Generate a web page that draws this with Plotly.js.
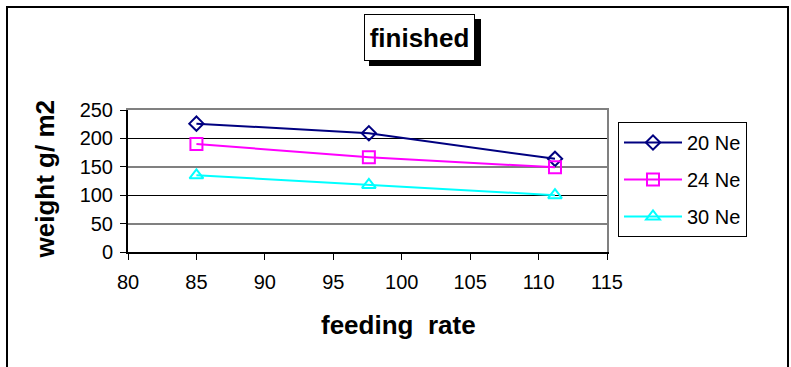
<!DOCTYPE html>
<html>
<head>
<meta charset="utf-8">
<script src="https://cdn.plot.ly/plotly-3.0.1.min.js"></script>
<style>html,body{margin:0;padding:0;background:#fff;}#chart{width:791px;height:367px;}</style>
</head>
<body>
<div id="chart"></div>
<script>
// ---- data ----
const feedingRate = [85, 97.6, 111.2];
const seriesNames = ["20 Ne", "24 Ne", "30 Ne"];
const ne20 = [226, 209, 164];
const ne24 = [190, 167, 149];
const ne30 = [135, 118, 100];
const xTicks = [80, 85, 90, 95, 100, 105, 110, 115];
const yTicks = [0, 50, 100, 150, 200, 250];
const chartTitle = "finished";
const xTitle = "feeding&nbsp; rate";
const yTitle = "weight g/ m2";

// ---- layout helpers ----
const W = 791, H = 367;
const M = {l: 128, r: 184, t: 110, b: 115};
const PW = W - M.l - M.r, PH = H - M.t - M.b;
const px = v => (v - M.l) / PW;          // pixel x -> paper x
const py = v => (H - M.b - v) / PH;      // pixel y -> paper y
const FONT = "Liberation Sans, Arial, sans-serif";

const styles = [
  {color: "#000080", symbol: "diamond-open", size: 11},
  {color: "#FF00FF", symbol: "square-open", size: 12},
  {color: "#00FFFF", symbol: "triangle-up-open", size: 12}
];
const values = [ne20, ne24, ne30];

const traces = values.map((v, i) => ({
  type: "scatter", mode: "lines+markers",
  x: feedingRate, y: v, name: seriesNames[i],
  legendgroup: "g" + i,
  line: {color: styles[i].color, width: 2},
  marker: {symbol: styles[i].symbol, size: styles[i].size, color: styles[i].color,
           line: {color: styles[i].color, width: 2}}
}));
// helper traces for the extra axes (no visible marks)
traces.push({type: "scatter", x: [80], y: [0], yaxis: "y2", showlegend: false, hoverinfo: "skip", mode: "markers", marker: {opacity: 0}});
traces.push({type: "scatter", x: [80], y: [0], yaxis: "y3", showlegend: false, hoverinfo: "skip", mode: "markers", marker: {opacity: 0}});
traces.push({type: "scatter", x: [80], y: [0], yaxis: "y4", xaxis: "x2", showlegend: false, hoverinfo: "skip", mode: "markers", marker: {opacity: 0}});

const layout = {
  width: W, height: H,
  margin: M,
  paper_bgcolor: "#fff", plot_bgcolor: "#fff",
  font: {family: FONT, size: 20, color: "#000"},
  showlegend: true,
  legend: {
    x: px(618), y: py(122), xanchor: "left", yanchor: "top",
    bordercolor: "#000", borderwidth: 1, bgcolor: "#fff",
    font: {family: FONT, size: 20, color: "#000"},
    traceorder: "grouped", tracegroupgap: 8, itemwidth: 58
  },
  xaxis: {
    range: [80, 115], tickvals: xTicks, ticktext: xTicks.map(String),
    showgrid: false, zeroline: false,
    showline: true, linecolor: "#000", linewidth: 2,
    ticks: "outside", ticklen: 6, tickcolor: "#000", tickwidth: 1,
    ticklabelstandoff: 5,
    tickfont: {family: FONT, size: 20, color: "#000"}
  },
  xaxis2: {
    overlaying: "x", side: "top", range: [80, 115],
    showgrid: false, zeroline: false, showticklabels: false, ticks: "",
    showline: true, linecolor: "#808080", linewidth: 2
  },
  yaxis: {
    range: [0, 250], tickvals: yTicks, ticktext: yTicks.map(String),
    showgrid: false, zeroline: false,
    showline: true, linecolor: "#000", linewidth: 2,
    ticks: "outside", ticklen: 6, tickcolor: "#000", tickwidth: 1,
    ticklabelstandoff: 3,
    tickfont: {family: FONT, size: 20, color: "#000"}
  },
  yaxis2: {
    overlaying: "y", range: [0, 250], tickvals: [100, 200],
    showticklabels: false, ticks: "", zeroline: false,
    showgrid: true, gridcolor: "#000", gridwidth: 1
  },
  yaxis3: {
    overlaying: "y", range: [0, 250], tickvals: [50, 150],
    showticklabels: false, ticks: "", zeroline: false,
    showgrid: true, gridcolor: "#808080", gridwidth: 2
  },
  yaxis4: {
    overlaying: "y", side: "right", anchor: "x2", range: [0, 250],
    showticklabels: false, ticks: "", zeroline: false, showgrid: false,
    showline: true, linecolor: "#808080", linewidth: 2
  },
  shapes: [
    // outer chart frame
    {type: "rect", xref: "paper", yref: "paper", layer: "below",
     x0: px(7), x1: px(788), y0: py(380), y1: py(7),
     line: {color: "#000", width: 2}, fillcolor: "rgba(0,0,0,0)"},
    // title box shadow
    {type: "rect", xref: "paper", yref: "paper", layer: "below",
     x0: px(369), x1: px(481), y0: py(66), y1: py(19),
     line: {width: 0}, fillcolor: "#000"}
  ],
  annotations: [
    {text: "<b>" + chartTitle + "</b>", xref: "paper", yref: "paper",
     x: px(419.5), y: py(37.5), xanchor: "center", yanchor: "middle",
     showarrow: false, font: {family: FONT, size: 26, color: "#000"},
     bgcolor: "#fff", bordercolor: "#000", borderwidth: 1,
     width: 107, height: 43, borderpad: 1},
    {text: "<b>" + xTitle + "</b>", xref: "paper", yref: "paper",
     x: px(398), y: py(325), xanchor: "center", yanchor: "middle",
     showarrow: false, font: {family: FONT, size: 26, color: "#000"}},
    {text: "<b>" + yTitle + "</b>", xref: "paper", yref: "paper",
     x: px(44.5), y: py(180), xanchor: "center", yanchor: "middle", textangle: -90,
     showarrow: false, font: {family: FONT, size: 26, color: "#000"}}
  ]
};

Plotly.newPlot("chart", traces, layout, {staticPlot: true, displayModeBar: false});
</script>
</body>
</html>
